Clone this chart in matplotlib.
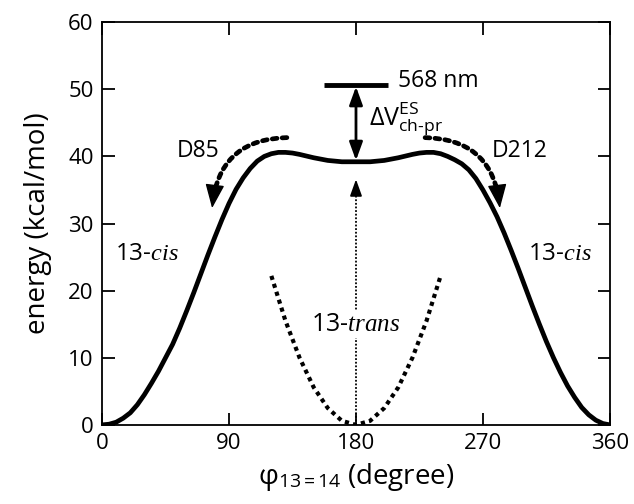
import numpy as np
import matplotlib
matplotlib.use("Agg")
import matplotlib.pyplot as plt

# ground-state torsion profile (degree, kcal/mol)
phi_cis = list(range(0, 361, 5))
energy_cis = [0, 0.1, 0.4, 1, 1.8, 3, 4.5, 6.2, 8, 10, 12, 14.4, 17, 19.7, 22.5,
              25.3, 28, 30.6, 33, 35.1, 36.8, 38.2, 39.3, 40, 40.4, 40.6, 40.6,
              40.5, 40.3, 40.05, 39.8, 39.6, 39.4, 39.3, 39.2, 39.2, 39.2,
              39.2, 39.2, 39.3, 39.4, 39.6, 39.8, 40.05, 40.3, 40.5, 40.6, 40.6,
              40.4, 40.0, 39.5, 38.9, 38, 36.7, 35, 33.1, 31, 28.6, 26, 23.3,
              20.5, 17.7, 15, 12.4, 10, 7.8, 5.8, 4.1, 2.6, 1.5, 0.7, 0.2, 0]

# 13-trans well
phi_trans = [120, 130, 140, 150, 160, 170, 180, 190, 200, 210, 220, 230, 240]
energy_trans = [22.2, 15.5, 10, 5.6, 2.5, 0.6, 0, 0.6, 2.5, 5.6, 10, 15.5, 22.2]

xticks = [0, 90, 180, 270, 360]
yticks = [0, 10, 20, 30, 40, 50, 60]

excited_level = 50.6   # 568 nm
barrier_level = 39.4
vertical_top = 37.0

plt.rcParams["font.family"] = ["Open Sans", "DejaVu Sans"]
plt.rcParams["mathtext.fontset"] = "custom"
plt.rcParams["mathtext.rm"] = "Open Sans"
plt.rcParams["mathtext.sf"] = "Open Sans"
plt.rcParams["mathtext.it"] = "Liberation Serif:italic"

fig = plt.figure(figsize=(6.34, 5.04), dpi=100)
ax = fig.add_axes([0.161, 0.157, 0.801, 0.799])

ax.plot(phi_cis, energy_cis, color="black", lw=3.4, solid_capstyle="round",
        solid_joinstyle="round", zorder=3)
ax.plot(phi_trans, energy_trans, color="black", lw=3, linestyle=(0, (1, 1)),
        dash_capstyle="butt", zorder=3)

# vertical excitation at 180
ax.plot([180, 180], [0, vertical_top - 1.5], color="black", lw=1.3,
        linestyle=(0, (1, 1)), zorder=2)
ax.annotate("", xy=(180, vertical_top), xytext=(180, vertical_top - 2),
            arrowprops=dict(arrowstyle="-|>,head_length=0.5,head_width=0.18",
                            color="black", lw=1.3, mutation_scale=20))
ax.text(180, 15.0, "13-$\\mathit{trans}$", ha="center", va="center", fontsize=18,
        bbox=dict(facecolor="white", edgecolor="none", pad=1), zorder=4)

# excited state level and gap
ax.plot([157, 203], [excited_level, excited_level], color="black", lw=3.5,
        solid_capstyle="butt")
ax.annotate("", xy=(180, barrier_level), xytext=(180, excited_level - 0.2),
            arrowprops=dict(arrowstyle="<|-|>,head_length=0.55,head_width=0.2",
                            color="black", lw=2, mutation_scale=20,
                            shrinkA=0, shrinkB=0))
ax.text(210, excited_level + 0.6, "568 nm", ha="left", va="center", fontsize=16.5)
ax.text(189, 45.6, r"$\Delta\mathrm{V}^{\mathrm{ES}}_{\mathrm{ch\text{-}pr}}$",
        ha="left", va="center", fontsize=18)

# isomerisation paths
for start, end, rad in [((131, 42.8), (78, 32.3), 0.45),
                        ((229, 42.8), (282, 32.3), -0.45)]:
    ax.annotate("", xy=end, xytext=start,
                arrowprops=dict(arrowstyle="-", color="black", lw=3.4,
                                linestyle=(0, (1, 1.1)),
                                connectionstyle=f"arc3,rad={rad}",
                                shrinkA=0, shrinkB=8))
    tail = (end[0] + (2 if rad > 0 else -2), end[1] + 3.5)
    ax.annotate("", xy=end, xytext=tail,
                arrowprops=dict(arrowstyle="-|>,head_length=0.75,head_width=0.3",
                                color="black", lw=1, mutation_scale=20,
                                shrinkA=0, shrinkB=0))

ax.text(53, 40.8, "D85", ha="left", va="center", fontsize=16.5)
ax.text(276, 40.8, "D212", ha="left", va="center", fontsize=16.5)
ax.text(9, 25.5, "13-$\\mathit{cis}$", ha="left", va="center", fontsize=17.5)
ax.text(302, 25.5, "13-$\\mathit{cis}$", ha="left", va="center", fontsize=17.5)

ax.set_xlim(0, 360)
ax.set_ylim(0, 60)
ax.set_xticks(xticks)
ax.set_yticks(yticks)
ax.tick_params(direction="in", length=9, width=1.3, labelsize=16,
               top=True, right=True, pad=6)
for s in ax.spines.values():
    s.set_linewidth(1.3)

ax.set_ylabel("energy (kcal/mol)", fontsize=20, labelpad=12)
ax.set_xlabel("φ$_{\\mathrm{13=14}}$ (degree)", fontsize=20, labelpad=5)

fig.savefig("out.png", dpi=100)
